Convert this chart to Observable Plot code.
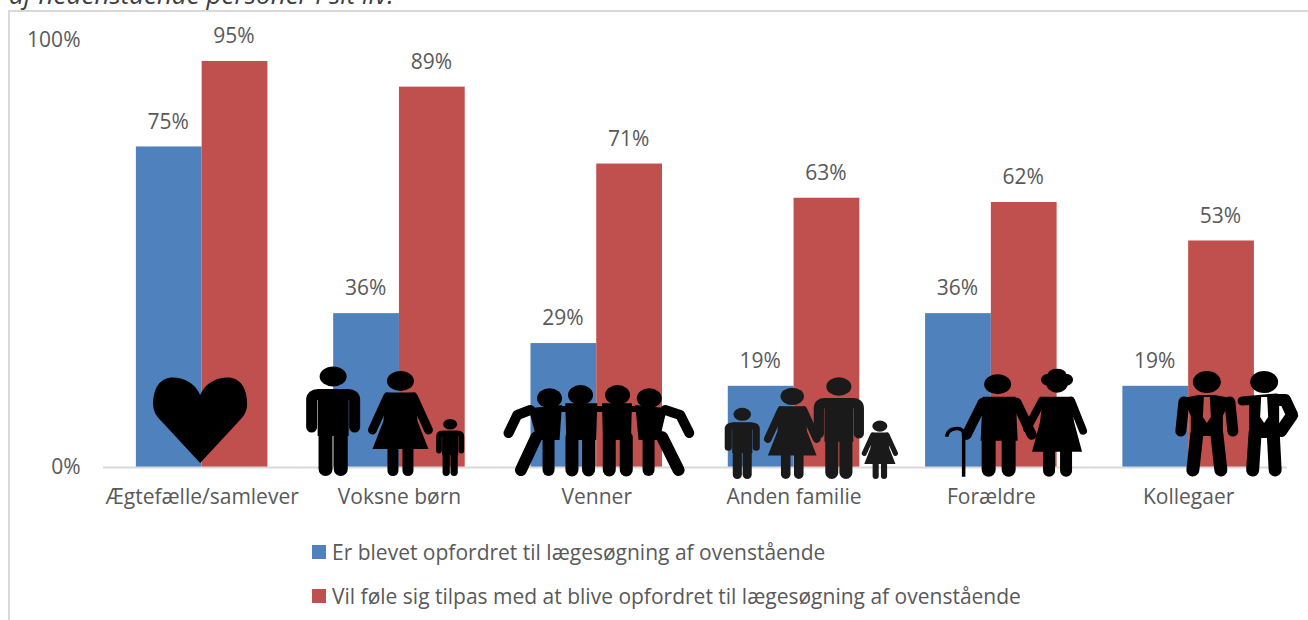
<!DOCTYPE html>
<html lang="da">
<head>
<meta charset="utf-8">
<script src="https://cdn.jsdelivr.net/npm/d3@7"></script>
<script src="https://cdn.jsdelivr.net/npm/@observablehq/plot@0.6"></script>
<style>
  html, body { margin: 0; background: #fff; }
  #page { position: relative; width: 1308px; height: 620px; overflow: hidden; font-family: "Open Sans", sans-serif; color: #595959; }
  #lead { position: absolute; left: 9px; top: -22px; font-size: 26px; font-style: italic; color: #404040; white-space: nowrap; line-height: 32px; }
  #box { position: absolute; left: 8px; top: 10px; width: 1400px; height: 640px; border: 2px solid #d9d9d9; }
  #chart { position: absolute; left: 0; top: 0; }
  #chart svg { background: transparent; display: block; }
  #legend { position: absolute; left: 312px; top: 529.5px; font-size: 21px; }
  .key { display: flex; align-items: center; height: 44.5px; white-space: nowrap; }
  .key i { display: block; width: 14px; height: 14px; margin-right: 6px; }
</style>
</head>
<body>
<div id="page">
  <div id="lead">af nedenstående personer i sit liv.</div>
  <div id="box"></div>
  <div id="chart"></div>
  <div id="legend"></div>
</div>
<script>
// Survey shares per relation
const categories = ["Ægtefælle/samlever", "Voksne børn", "Venner", "Anden familie", "Forældre", "Kollegaer"];
const seriesNames = [
  "Er blevet opfordret til lægesøgning af ovenstående",
  "Vil føle sig tilpas med at blive opfordret til lægesøgning af ovenstående"
];
const encouraged = [75, 36, 29, 19, 36, 19];
const comfortable = [95, 89, 71, 63, 62, 53];
const seriesColors = ["#4f81bd", "#c0504d"];

const rows = categories.flatMap((category, i) => [
  {category, series: seriesNames[0], value: encouraged[i]},
  {category, series: seriesNames[1], value: comfortable[i]}
]);

// Pictogram pieces: each part is a path, either filled or drawn as a thick round stroke.
const ink = "#000";
const blob = (cx, cy, rx, ry) => ({d: `M${cx - rx},${cy}a${rx},${ry} 0 1,0 ${2 * rx},0a${rx},${ry} 0 1,0 ${-2 * rx},0Z`});
const line = (d, w) => ({d, w});
const shape = (d, fill) => ({d, fill});

const man = [
  blob(0, -99.5, 13.5, 10),
  line("M-21.5,-49V-76Q-21.5,-81.5 -15,-81.5H15Q21.5,-81.5 21.5,-76V-49", 11),
  shape("M-15.5,-87H15.5V-40H-15.5Z"),
  line("M-7.6,-44V-7", 14),
  line("M7.6,-44V-7", 14)
];
const woman = [
  blob(0, -95, 13.5, 10),
  shape("M-15,-83.5H15L17,-55L28,-27H-28L-17,-55Z"),
  line("M-13,-79L-28,-46", 9),
  line("M13,-79L28,-46", 9),
  line("M-7.5,-30V-5.5", 11),
  line("M7.5,-30V-5.5", 11)
];
const heart = [
  shape("M0,-72C-6,-86 -21,-91 -32,-89C-44,-86 -47,-73 -47,-63C-47,-55 -43,-50 -38,-45L0,-4L38,-45C43,-50 47,-55 47,-63C47,-73 44,-86 32,-89C21,-91 6,-86 0,-72Z")
];
const friends = [
  blob(-46.7, -77.7, 12.5, 10), blob(-15.7, -81, 12.5, 10), blob(21.3, -81, 12.5, 10), blob(53, -77.7, 12.5, 10),
  shape("M-67.7,-67.7L-34.3,-71L-36.7,-36H-59.3Z"),
  shape("M-31,-72.7H1L0,-36H-30Z"),
  shape("M5.7,-72.7H35.7L34.7,-36H6.7Z"),
  shape("M39,-71L70.7,-67.7L63.3,-36H42.3Z"),
  line("M-50,-67H50", 6),
  line("M-66,-66L-79,-61L-87.7,-43", 10),
  line("M69,-66L84,-61L93,-43", 10),
  line("M-60,-38.7L-75.3,-6", 12),
  line("M-47.7,-38.7V-6", 12),
  line("M-24.3,-38.7V-6", 13),
  line("M-7.7,-38.7V-6", 13),
  line("M13,-38.7V-6", 13),
  line("M30,-38.7V-6", 13),
  line("M52.3,-38.7V-6", 12),
  line("M66,-38.7L82.3,-6", 12)
];
const elder = [
  blob(0, -92.5, 13.5, 10),
  shape("M-15,-80H18L20,-36H-17Z"),
  line("M-15,-74L-31,-42", 10),
  line("M19,-74L34,-42", 10),
  line("M-9,-40V-7", 14),
  line("M11,-40V-7", 14),
  {d: "M-34,-44V0M-34,-44Q-36,-49 -43,-48Q-50,-47 -51,-40", w: 3.5, cap: "butt"}
];
const elderWoman = [
  blob(0, -94, 11, 10), blob(-9, -97, 7, 6), blob(9, -97, 7, 6), blob(0, -103, 9, 5),
  shape("M-14,-80H14L17,-55L25,-25H-25L-17,-55Z"),
  line("M-15,-76L-30,-48", 8),
  line("M14,-76L26,-46", 8),
  line("M-8,-28V-6", 12),
  line("M9,-28V-6", 12)
];
const suit = tie => [
  blob(0, -94, 14, 11),
  shape("M-24,-78L-8,-81H8L24,-78L16,-60V-40H-16V-60Z"),
  line("M-23,-74L-26,-45", 11),
  line("M23,-74L26,-45", 11),
  line("M-10,-42L-14,-6", 13),
  line("M10,-42L14,-6", 13),
  shape("M-3,-79H3L4,-59L0,-53L-4,-59Z", tie)
];
const suitAkimbo = [
  blob(0, -94, 14, 11),
  shape("M-15,-80H15V-38H-15Z"),
  line("M-22,-75L12,-78", 9),
  line("M14,-76H21L28,-61L17,-45", 12),
  line("M-9,-44L-11.5,-6", 13),
  line("M9,-44L11,-6", 13),
  shape("M-3,-79H3L4,-59L0,-53L-4,-59Z", "#fff")
];

// Figures per category: [parts, offset from the group's centre, scale, drop below baseline]
const pictograms = new Map([
  [categories[0], {color: ink, figures: [[heart, -1.5, 1, 0]]}],
  [categories[1], {color: ink, figures: [[man, -65.8, 1, 9], [woman, 1.5, 1, 9], [man, 51.2, 0.52, 9]]}],
  [categories[2], {color: ink, figures: [[friends, 0, 1, 9]]}],
  [categories[3], {color: "#1a1a1a", figures: [[man, -51.3, 0.65, 12], [woman, -1.3, 0.87, 12], [man, 45.3, 0.93, 12], [woman, 86.3, 0.557, 12]]}],
  [categories[4], {color: ink, figures: [[elder, 6.8, 1, 9.7], [elderWoman, 66.2, 1, 9.7]]}],
  [categories[5], {color: ink, figures: [[suit(seriesColors[1]), 18.7, 1, 9], [suitAkimbo, 76, 1, 9]]}]
]);

// Draws one category's silhouettes inside its facet, anchored on the zero baseline.
function renderPictograms(index, scales) {
  const g = d3.create("svg:g");
  const centre = scales.x(seriesNames[1]);
  const base = scales.y(0);
  for (const i of index) {
    const {color, figures} = pictograms.get(categories[i]);
    for (const [parts, dx, s, drop] of figures) {
      const fig = g.append("g").attr("transform", `translate(${centre + dx},${base + drop}) scale(${s})`);
      for (const p of parts) {
        const el = fig.append("path").attr("d", p.d);
        if (p.w) el.attr("fill", "none").attr("stroke", color).attr("stroke-width", p.w).attr("stroke-linecap", p.cap || "round").attr("stroke-linejoin", "round");
        else el.attr("fill", p.fill || color);
      }
    }
  }
  return g.node();
}

const font = "Open Sans, sans-serif";
const textSize = 21;
const plot = Plot.plot({
  width: 1308,
  height: 530,
  marginLeft: 103,
  marginRight: 21.2,
  marginTop: 39.6,
  marginBottom: 63,
  style: {fontFamily: font, fontSize: `${textSize}px`, color: "#595959", background: "transparent", overflow: "visible"},
  fx: {domain: categories, padding: 0, label: null, round: false},
  x: {domain: seriesNames, paddingInner: 0, paddingOuter: 0.5, round: false, axis: null},
  y: {domain: [0, 100], label: null},
  color: {domain: seriesNames, range: seriesColors},
  marks: [
    Plot.axisY({ticks: [0, 100], tickFormat: d => `${d}%`, tickSize: 0, tickPadding: 23, fontSize: textSize, fill: "#595959", label: null}),
    Plot.axisFx({anchor: "bottom", tickSize: 0, tickPadding: 22, fontSize: textSize, fill: "#595959", label: null}),
    Plot.barY(rows, {fx: "category", x: "series", y: "value", fill: "series"}),
    Plot.ruleY([0], {stroke: "#d9d9d9", strokeWidth: 2}),
    Plot.text(rows, {fx: "category", x: "series", y: "value", text: d => `${d.value}%`, dx: -1, dy: -25, fontSize: textSize, fill: "#595959"}),
    Plot.dot(categories.map((category, i) => i), {fx: i => categories[i], frameAnchor: "middle", render: renderPictograms})
  ]
});
document.getElementById("chart").append(plot);

// Series key under the chart
const legend = d3.select("#legend");
seriesNames.forEach((name, i) => {
  const key = legend.append("div").attr("class", "key");
  key.append("i").style("background", seriesColors[i]);
  key.append("span").text(name);
});
</script>
</body>
</html>
